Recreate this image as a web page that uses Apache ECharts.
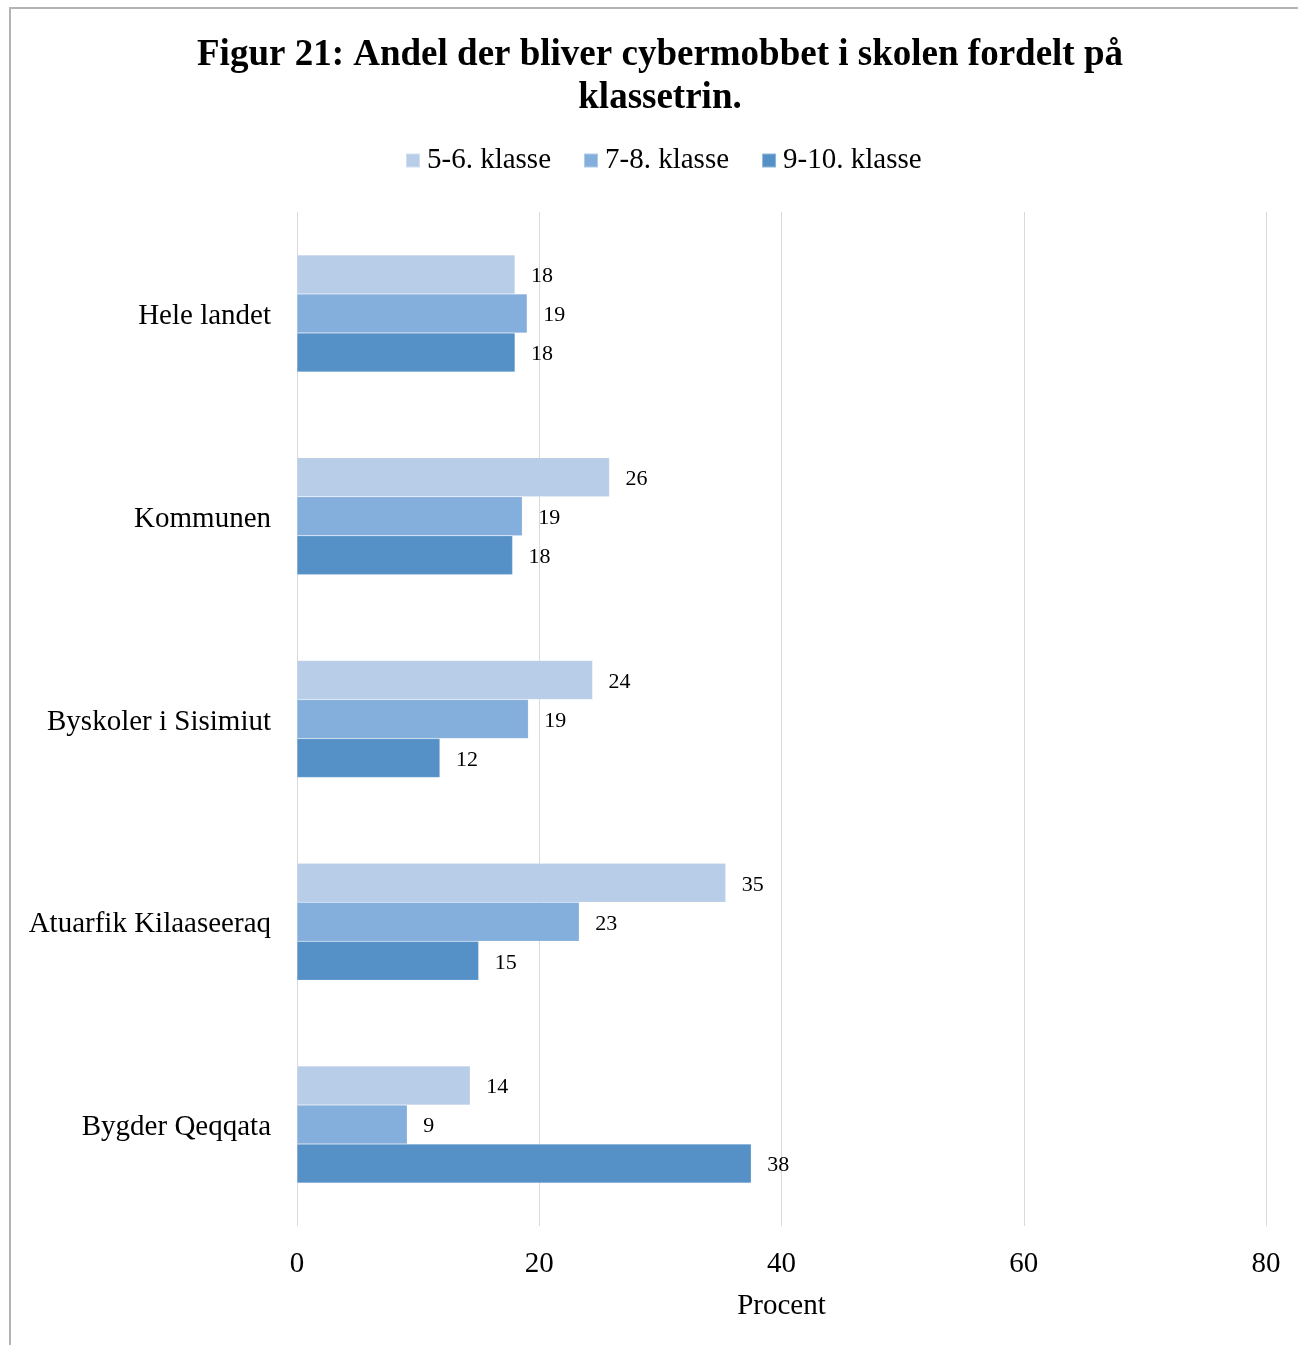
<!DOCTYPE html>
<html><head><meta charset="utf-8">
<script src="https://cdn.jsdelivr.net/npm/echarts@6/dist/echarts.min.js"></script>
<style>
html,body{margin:0;padding:0;background:#fff;}
#frame{position:absolute;left:9px;top:7px;width:1400px;height:1400px;border-left:2px solid #b3b3b3;border-top:2px solid #b3b3b3;box-sizing:border-box;}
#chart{position:absolute;left:0;top:0;width:1298px;height:1345px;}
</style></head>
<body>
<div id="frame"></div>
<div id="chart"></div>
<script>
var categories = ["Hele landet", "Kommunen", "Byskoler i Sisimiut", "Atuarfik Kilaaseeraq", "Bygder Qeqqata"];
var seriesNames = ["5-6. klasse", "7-8. klasse", "9-10. klasse"];
var values56 = [18.0, 25.8, 24.4, 35.4, 14.3];
var values78 = [19.0, 18.6, 19.1, 23.3, 9.1];
var values910 = [18.0, 17.8, 11.8, 15.0, 37.5];
var xTicks = [0, 20, 40, 60, 80];
var colors = ["#B8CDE8", "#84AEDB", "#5591C7"];

var font = "'Liberation Serif', 'Times New Roman', serif";
var chart = echarts.init(document.getElementById('chart'));
var allValues = [values56, values78, values910];
var series = seriesNames.map(function (n, i) {
  return {
    name: n, type: 'bar', data: allValues[i],
    barWidth: 39, barGap: '0%',
    itemStyle: { color: colors[i], borderColor: 'rgba(255,255,255,0.35)', borderWidth: 0.5 },
    label: { show: true, position: 'right', distance: 16, offset: [0, 2], color: '#000', fontFamily: font, fontSize: 22,
      formatter: function (p) { return Math.round(p.value); } }
  };
});
chart.setOption({
  animation: false,
  title: {
    text: 'Figur 21: Andel der bliver cybermobbet i skolen fordelt på\nklassetrin.',
    left: 655, top: 29, textAlign: 'center',
    textStyle: { fontFamily: font, fontSize: 37, fontWeight: 'bold', color: '#000', lineHeight: 43 }
  },
  legend: {
    data: seriesNames, left: 400, top: 141, itemWidth: 14, itemHeight: 14, itemGap: 32,
    icon: 'rect',
    textStyle: { fontFamily: font, fontSize: 29, color: '#000', padding: [0, 0, 0, 2] }
  },
  grid: { left: 297, right: 32, top: 212, bottom: 119, containLabel: false },
  xAxis: {
    type: 'value', min: 0, max: 80, interval: 20,
    axisLine: { show: false }, axisTick: { show: false },
    splitLine: { show: true, lineStyle: { color: '#d9d9d9', width: 1 } },
    axisLabel: { margin: 24, color: '#000', fontFamily: font, fontSize: 29,
      formatter: function (v) { return xTicks.indexOf(v) >= 0 ? String(v) : ''; } },
    name: 'Procent', nameLocation: 'middle', nameGap: 66,
    nameTextStyle: { fontFamily: font, fontSize: 29, color: '#000' }
  },
  yAxis: {
    type: 'category', data: categories, inverse: true,
    axisLine: { show: false }, axisTick: { show: false },
    axisLabel: { margin: 26, color: '#000', fontFamily: font, fontSize: 29,
      formatter: function (v) { return '{a|' + v + '}'; },
      rich: { a: { fontFamily: font, fontSize: 29, color: '#000', padding: [6, 0, 0, 0] } } }
  },
  series: series
});
</script>
</body></html>
